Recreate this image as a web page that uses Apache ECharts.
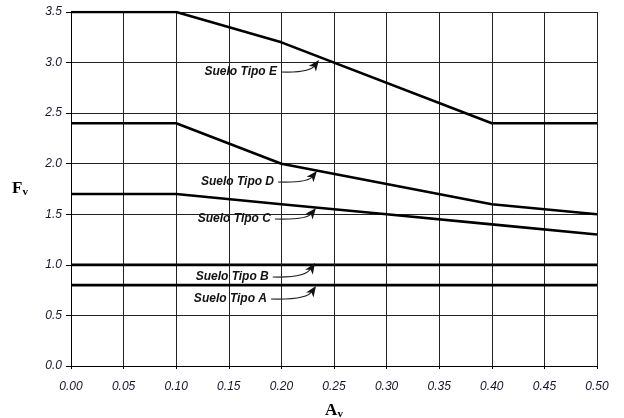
<!DOCTYPE html>
<html>
<head>
<meta charset="utf-8">
<script src="https://cdn.jsdelivr.net/npm/echarts@6/dist/echarts.min.js"></script>
<style>
  html, body { margin: 0; padding: 0; background: #fff; }
  #chart { width: 624px; height: 418px; }
</style>
</head>
<body>
<div id="chart"></div>
<script>
// soil type curves (Av -> Fv)
var sueloE = [[0, 3.5], [0.1, 3.5], [0.2, 3.2], [0.4, 2.4], [0.5, 2.4]];
var sueloD = [[0, 2.4], [0.1, 2.4], [0.2, 2.0], [0.3, 1.8], [0.4, 1.6], [0.5, 1.5]];
var sueloC = [[0, 1.7], [0.1, 1.7], [0.2, 1.6], [0.3, 1.5], [0.4, 1.4], [0.5, 1.3]];
var sueloB = [[0, 1.0], [0.5, 1.0]];
var sueloA = [[0, 0.8], [0.5, 0.8]];

var labels = ['Suelo Tipo E', 'Suelo Tipo D', 'Suelo Tipo C', 'Suelo Tipo B', 'Suelo Tipo A'];

var tickFont = 'Liberation Sans';
var labelColor = '#15152a';

var chart = echarts.init(document.getElementById('chart'));

function curve(name, data) {
    return {
        name: name,
        type: 'line',
        data: data,
        symbol: 'none',
        silent: true,
        lineStyle: {color: '#000', width: 2.6}
    };
}

var option = {
    animation: false,
    grid: {left: 71, right: 27, top: 12, bottom: 52, outerBoundsMode: 'none'},
    xAxis: {
        type: 'value',
        min: 0, max: 0.5, interval: 0.05,
        name: '{a|A}{s|v}',
        nameLocation: 'middle',
        nameGap: 36,
        nameTextStyle: {
            rich: {
                a: {fontFamily: 'Liberation Serif', fontWeight: 'bold', fontSize: 17, color: '#000'},
                s: {fontFamily: 'Liberation Serif', fontWeight: 'bold', fontSize: 11, color: '#000', padding: [7, 0, 0, 0]}
            }
        },
        axisLine: {show: true, onZero: false, lineStyle: {color: '#000', width: 1}},
        axisTick: {show: true, length: 3, lineStyle: {color: '#000'}},
        splitLine: {show: true, lineStyle: {color: '#222', width: 1}},
        axisLabel: {
            margin: 15,
            fontFamily: tickFont, fontStyle: 'italic', fontSize: 12, color: labelColor,
            formatter: function (v) { return v.toFixed(2); }
        }
    },
    yAxis: {
        type: 'value',
        min: 0, max: 3.5, interval: 0.5,
        name: '{a|F}{s|v}',
        nameLocation: 'middle',
        nameGap: 43,
        nameRotate: 0,
        nameTextStyle: {
            rich: {
                a: {fontFamily: 'Liberation Serif', fontWeight: 'bold', fontSize: 17, color: '#000'},
                s: {fontFamily: 'Liberation Serif', fontWeight: 'bold', fontSize: 11, color: '#000', padding: [7, 0, 0, 0]}
            }
        },
        axisLine: {show: true, lineStyle: {color: '#000', width: 1}},
        axisTick: {show: true, length: 5, lineStyle: {color: '#000'}},
        splitLine: {show: true, lineStyle: {color: '#222', width: 1}},
        axisLabel: {
            margin: 9,
            fontFamily: tickFont, fontStyle: 'italic', fontSize: 12, color: labelColor,
            formatter: function (v) { return v.toFixed(1); }
        }
    },
    series: [
        curve('E', sueloE),
        curve('D', sueloD),
        curve('C', sueloC),
        curve('B', sueloB),
        curve('A', sueloA)
    ]
};
chart.setOption(option);

// annotation anchors: right end of the label text and the arrow tip (data coords)
var labelEnds = [[0.1958, 2.907], [0.193, 1.819], [0.190, 1.453], [0.188, 0.880], [0.1863, 0.662]];
var arrowTips = [[0.2357, 3.025], [0.2338, 1.928], [0.2329, 1.562], [0.2319, 1.018], [0.2329, 0.791]];

var graphics = [];
for (var i = 0; i < labels.length; i++) {
    var p = chart.convertToPixel({gridIndex: 0}, labelEnds[i]);
    var t = chart.convertToPixel({gridIndex: 0}, arrowTips[i]);
    var x0 = p[0] + 4, y0 = p[1];
    graphics.push({
        type: 'text',
        silent: true,
        style: {
            text: labels[i], x: p[0], y: p[1],
            align: 'right', verticalAlign: 'middle',
            font: 'italic bold 12px "Liberation Sans"',
            fill: '#111'
        },
        z: 10
    });
    // leader: flat run, then bend up towards the tip
    graphics.push({
        type: 'bezierCurve',
        silent: true,
        shape: {x1: x0, y1: y0, x2: t[0] - 4, y2: t[1] + 5, cpx1: t[0] - 8, cpy1: y0 + 1},
        style: {stroke: '#222', lineWidth: 1.1, fill: null},
        z: 10
    });
    // arrow head pointing up-right
    var ang = Math.atan2(t[1] - y0, t[0] - (t[0] - 9));
    var len = 11, hw = 4.5;
    var bx = t[0] - len * Math.cos(ang), by = t[1] - len * Math.sin(ang);
    var nx = -Math.sin(ang) * hw, ny = Math.cos(ang) * hw;
    graphics.push({
        type: 'polygon',
        silent: true,
        shape: {points: [[t[0], t[1]], [bx + nx, by + ny], [bx + 3 * Math.cos(ang), by + 3 * Math.sin(ang)], [bx - nx, by - ny]]},
        style: {fill: '#111'},
        z: 10
    });
}
chart.setOption({graphic: graphics});
</script>
</body>
</html>
